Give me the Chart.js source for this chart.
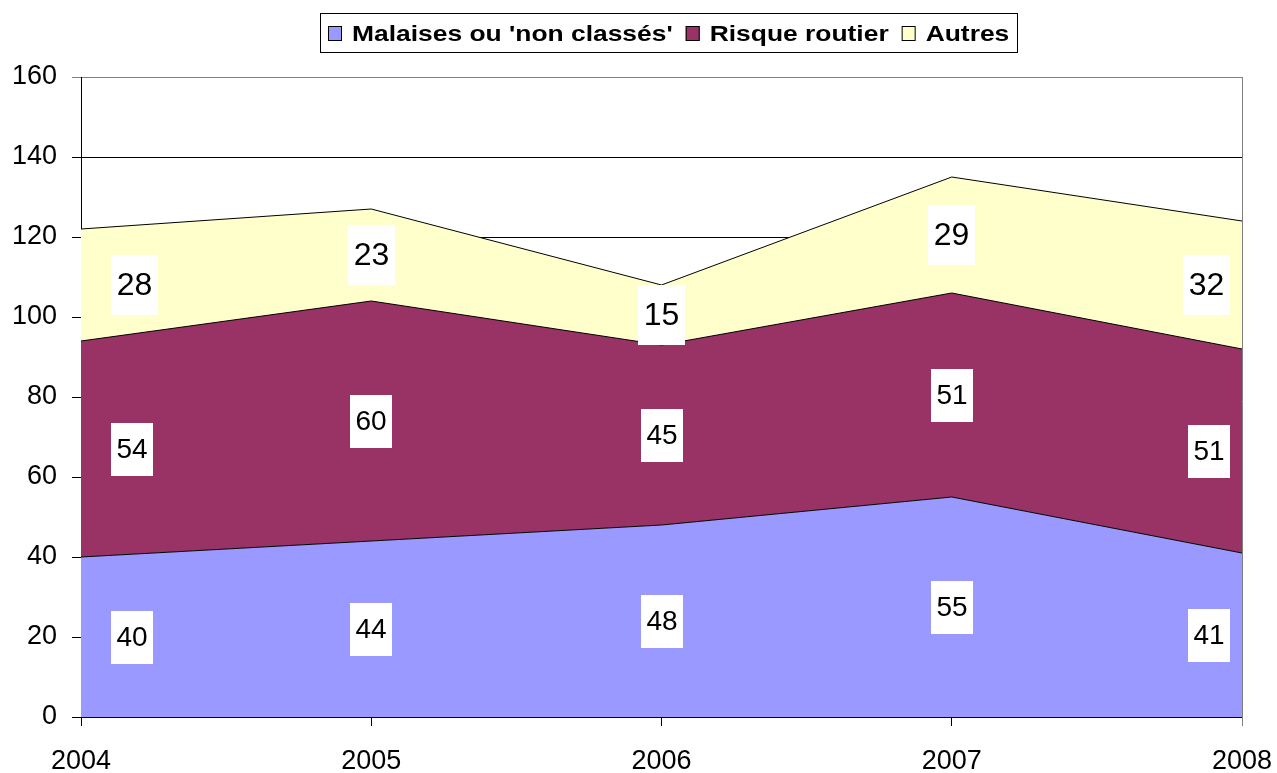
<!DOCTYPE html>
<html><head><meta charset="utf-8">
<script src="https://cdn.jsdelivr.net/npm/chart.js@4/dist/chart.umd.min.js"></script>
<style>html,body{margin:0;padding:0;background:#fff}#wrap{width:1277px;height:773px;position:relative}</style>
</head><body><div id="wrap"><canvas id="c"></canvas></div>
<script>
const years = ['2004', '2005', '2006', '2007', '2008'];
const malaises = [40, 44, 48, 55, 41];
const risque = [54, 60, 45, 51, 51];
const autres = [28, 23, 15, 29, 32];
const seriesNames = ["Malaises ou 'non classés'", 'Risque routier', 'Autres'];
const seriesColors = ['#9999FF', '#993366', '#FFFFCC'];
const yMin = 0, yMax = 160, yStep = 20;

const FONT = '"Liberation Sans", Arial, sans-serif';
Chart.defaults.font.family = FONT;
Chart.defaults.color = '#000';

const seriesData = [malaises, risque, autres];

const legendPlugin = {
  id: 'customLegend',
  afterDraw(chart) {
    const ctx = chart.ctx;
    ctx.save();
    ctx.font = 'bold 22px ' + FONT;
    const sx = 1.2;
    const widths = seriesNames.map(n => ctx.measureText(n).width * sx);
    const pad = 8, sq = 14, gapSq = 10, gapItem = 13, padR = 8;
    let total = pad + padR + gapItem * (seriesNames.length - 1);
    widths.forEach(w => total += sq + gapSq + w);
    const cx = (chart.chartArea.left + chart.chartArea.right) / 2 + 7;
    const left = Math.round(cx - total / 2);
    ctx.strokeStyle = '#000';
    ctx.lineWidth = 1;
    ctx.strokeRect(left + 0.5, 13.5, Math.round(total), 39);
    let x = left + pad;
    seriesNames.forEach((n, i) => {
      ctx.fillStyle = seriesColors[i];
      ctx.fillRect(x, 26, 14, 15);
      ctx.strokeStyle = '#000';
      ctx.strokeRect(x + 0.5, 26.5, 13, 14);
      x += sq + gapSq;
      ctx.save();
      ctx.translate(x, 41);
      ctx.scale(sx, 1);
      ctx.fillStyle = '#000';
      ctx.textBaseline = 'alphabetic';
      ctx.textAlign = 'left';
      ctx.fillText(n, 0, 0);
      ctx.restore();
      x += widths[i] + gapItem;
    });
    ctx.restore();
  }
};

const labelPlugin = {
  id: 'valueLabels',
  afterDatasetsDraw(chart) {
    const ctx = chart.ctx;
    const xs = chart.scales.x, ys = chart.scales.y;
    const area = chart.chartArea;
    ctx.save();
    // right border of plot area
    ctx.strokeStyle = '#808080';
    ctx.lineWidth = 1;
    ctx.beginPath();
    const rx = Math.round(area.right) + 0.5;
    ctx.moveTo(rx, area.top);
    ctx.lineTo(rx, area.bottom + 9);
    ctx.stroke();

    const n = years.length;
    seriesData.forEach((arr, d) => {
      const fs = d === 2 ? 32 : 28;
      ctx.font = fs + 'px ' + FONT;
      arr.forEach((v, j) => {
        let below = 0;
        for (let k = 0; k < d; k++) below += seriesData[k][j];
        const y = ys.getPixelForValue(below + v / 2);
        const x0 = xs.getPixelForValue(j);
        const txt = String(v);
        const tw = ctx.measureText(txt).width;
        const bw = Math.round(tw + 11);
        const bh = Math.round(fs * 1.88);
        let bx;
        if (j === 0) bx = x0 + 30;
        else if (j === n - 1) bx = x0 - 12 - bw;
        else bx = x0 - bw / 2;
        const by = y - bh / 2;
        ctx.fillStyle = '#fff';
        ctx.fillRect(Math.round(bx), Math.round(by), bw, bh);
        ctx.fillStyle = '#000';
        ctx.textAlign = 'center';
        ctx.textBaseline = 'middle';
        ctx.fillText(txt, Math.round(bx) + bw / 2, y + 1);
      });
    });
    ctx.restore();
  }
};

new Chart(document.getElementById('c'), {
  type: 'line',
  data: {
    labels: years,
    datasets: seriesData.map((arr, i) => ({
      label: seriesNames[i],
      data: arr,
      backgroundColor: seriesColors[i],
      borderColor: '#000',
      borderWidth: 1,
      pointRadius: 0,
      tension: 0,
      fill: i === 0 ? 'origin' : '-1'
    }))
  },
  options: {
    responsive: true,
    maintainAspectRatio: false,
    animation: false,
    layout: { padding: { top: 77, right: 35, left: 0, bottom: 0 } },
    plugins: { legend: { display: false }, tooltip: { enabled: false } },
    scales: {
      x: {
        offset: false,
        grid: { drawOnChartArea: false, drawTicks: true, tickLength: 9, color: '#000' },
        border: { display: true, color: '#000' },
        ticks: { font: { size: 27 }, padding: 19, maxRotation: 0, autoSkip: false },
        afterFit(s) { s.height = 56; s.paddingLeft = 0; s.paddingRight = 0; }
      },
      y: {
        stacked: true,
        min: yMin, max: yMax,
        grid: { tickLength: 9, color: c => (c.tick && c.tick.value === yMax) ? '#808080' : '#000' },
        border: { display: true, color: '#000' },
        ticks: { stepSize: yStep, font: { size: 27 }, padding: 15 },
        afterFit(s) { s.width = 81; s.paddingTop = 0; s.paddingBottom = 0; }
      }
    }
  },
  plugins: [legendPlugin, labelPlugin]
});
</script></body></html>
